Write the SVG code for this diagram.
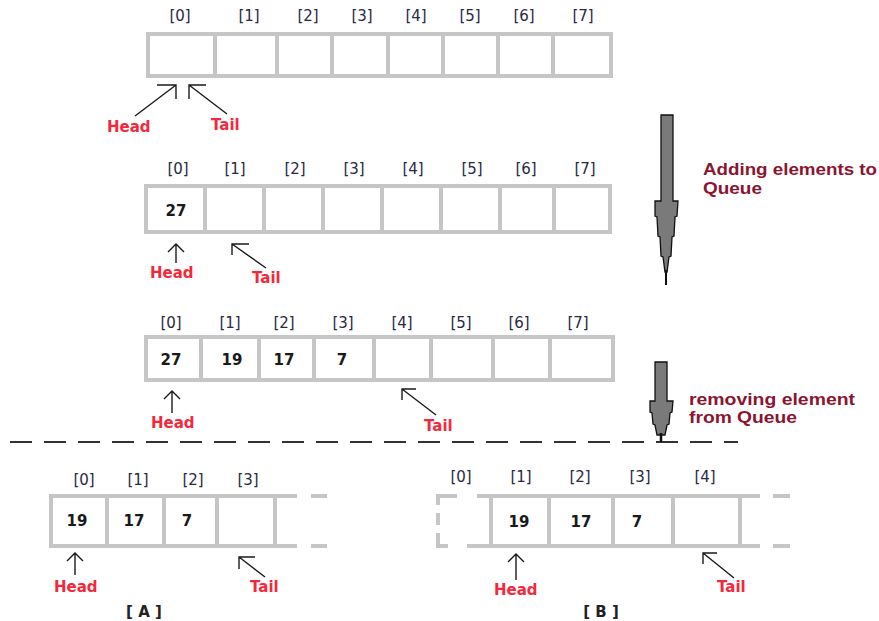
<svg xmlns="http://www.w3.org/2000/svg" width="879" height="621" viewBox="0 0 879 621">
<style>
.box{fill:#fff;stroke:#c6c6c6;stroke-width:4}
.ln{stroke:#c6c6c6;stroke-width:4;fill:none}
.idx{font-family:"DejaVu Sans",Verdana,sans-serif;font-size:15px;fill:#2a2a42;text-anchor:middle}
.num{font-family:"DejaVu Sans",Verdana,sans-serif;font-size:15px;font-weight:bold;fill:#1a1a1a;text-anchor:middle}
.ptr{font-family:"DejaVu Sans",Verdana,sans-serif;font-size:15px;font-weight:bold;fill:#f4283c}
.cap{font-family:"DejaVu Sans",Verdana,sans-serif;font-size:15px;font-weight:bold;fill:#222;text-anchor:middle}
.note{font-family:"Liberation Sans",Arial,sans-serif;font-size:16px;font-weight:bold;fill:#8b1530}
.arr{stroke:#1a1a1a;stroke-width:1.4;fill:none}
.big{fill:#7a7a7a;stroke:#111;stroke-width:1.3}
</style>

<g id="array1">
<rect class="box" x="148" y="34" width="463" height="42"/>
<path class="ln" d="M215 32V78M277 32V78M332 32V78M388 32V78M443 32V78M498 32V78M553 32V78"/>
<text class="idx" x="180" y="21">[0]</text><text class="idx" x="249" y="21">[1]</text><text class="idx" x="308" y="21">[2]</text><text class="idx" x="362" y="21">[3]</text><text class="idx" x="416" y="21">[4]</text><text class="idx" x="470" y="21">[5]</text><text class="idx" x="524" y="21">[6]</text><text class="idx" x="583" y="21">[7]</text>
<text class="ptr" x="107" y="132">Head</text>
<text class="ptr" x="211" y="130">Tail</text>
</g>

<g id="array2">
<rect class="box" x="146" y="186" width="464" height="46"/>
<path class="ln" d="M205 184V234M264 184V234M323 184V234M382 184V234M441 184V234M500 184V234M554 184V234"/>
<text class="idx" x="178" y="174">[0]</text><text class="idx" x="235" y="174">[1]</text><text class="idx" x="295" y="174">[2]</text><text class="idx" x="354" y="174">[3]</text><text class="idx" x="413" y="174">[4]</text><text class="idx" x="472" y="174">[5]</text><text class="idx" x="526" y="174">[6]</text><text class="idx" x="585" y="174">[7]</text>
<text class="num" x="176" y="216">27</text>
<text class="ptr" x="150" y="278">Head</text>
<text class="ptr" x="252" y="283">Tail</text>
</g>

<g id="array3">
<rect class="box" x="146" y="337" width="467" height="43"/>
<path class="ln" d="M201 335V382M259 335V382M314 335V382M374 335V382M431 335V382M493 335V382M550 335V382"/>
<text class="idx" x="171" y="328">[0]</text><text class="idx" x="230" y="328">[1]</text><text class="idx" x="284" y="328">[2]</text><text class="idx" x="343" y="328">[3]</text><text class="idx" x="402" y="328">[4]</text><text class="idx" x="461" y="328">[5]</text><text class="idx" x="519" y="328">[6]</text><text class="idx" x="578" y="328">[7]</text>
<text class="num" x="171" y="365">27</text><text class="num" x="232" y="365">19</text><text class="num" x="284" y="365">17</text><text class="num" x="342" y="365">7</text>
<text class="ptr" x="151" y="428">Head</text>
<text class="ptr" x="424" y="431">Tail</text>
</g>

<g id="arrayA">
<path class="ln" d="M49 496H297M49 546H297M51 494V548M107 494V548M164 494V548M217 494V548M275 494V548M311 496H327M311 546H327"/>
<text class="idx" x="84" y="485">[0]</text><text class="idx" x="138" y="485">[1]</text><text class="idx" x="193" y="485">[2]</text><text class="idx" x="248" y="485">[3]</text>
<text class="num" x="77" y="526">19</text><text class="num" x="134" y="526">17</text><text class="num" x="187" y="526">7</text>
<text class="ptr" x="54" y="592">Head</text>
<text class="ptr" x="250" y="592">Tail</text>
<text class="cap" x="144" y="617">[ A ]</text>
</g>

<g id="arrayB">
<path class="ln" d="M477 496H760M467 546H760M491 494V548M549 494V548M613 494V548M673 494V548M740 494V548M436 496H457M436 546H448M438 494V505M438 513V525M438 533V548M773 496H790M773 546H790"/>
<text class="idx" x="461" y="482">[0]</text><text class="idx" x="521" y="482">[1]</text><text class="idx" x="580" y="482">[2]</text><text class="idx" x="640" y="482">[3]</text><text class="idx" x="705" y="482">[4]</text>
<text class="num" x="519" y="527">19</text><text class="num" x="581" y="527">17</text><text class="num" x="637" y="527">7</text>
<text class="ptr" x="494" y="595">Head</text>
<text class="ptr" x="717" y="592">Tail</text>
<text class="cap" x="601" y="617">[ B ]</text>
</g>

<g id="notes">
<text class="note" x="703" y="175" textLength="174" lengthAdjust="spacingAndGlyphs">Adding elements to</text>
<text class="note" x="703" y="194" textLength="59" lengthAdjust="spacingAndGlyphs">Queue</text>
<text class="note" x="689" y="405" textLength="166" lengthAdjust="spacingAndGlyphs">removing element</text>
<text class="note" x="689" y="423" textLength="108" lengthAdjust="spacingAndGlyphs">from Queue</text>
</g>

<g id="connectors">
<path class="arr" d="M135 116L176 85M157 85H176V99"/>
<path class="arr" d="M227 114L189 85M206 85H189V99"/>
<path class="arr" d="M176 263V244M168 252L176 244L184 252"/>
<path class="arr" d="M266 268L232 244M249 244H232V255"/>
<path class="arr" d="M172 413V391M164 399L172 391L180 399"/>
<path class="arr" d="M436 415L402 389M416 389H402V400"/>
<path class="arr" d="M75 575V553M67 561L75 553L83 561"/>
<path class="arr" d="M265 577L239 557M255 557H239V569"/>
<path class="arr" d="M516 580V554M508 562L516 554L524 562"/>
<path class="arr" d="M734 578L703 553M717 553H703V564"/>
<path d="M10 442H738" stroke="#333" stroke-width="2" stroke-dasharray="22 12" fill="none"/>
<polygon class="big" points="661,115 673,115 673,201 678,201 677,216 675,217 674,236 672,237 671,256 669,257 667,272 665,272 663,257 661,256 660,237 658,236 657,217 655,216 655,201 661,201"/>
<path d="M666 270V285" stroke="#111" stroke-width="2"/>
<polygon class="big" points="655,362 667,362 667,401 673,401 672,412 670,413 669,424 667,425 665,435 657,435 655,425 653,424 652,413 650,412 650,401 655,401"/>
<path d="M661 433V442" stroke="#111" stroke-width="2.5"/>
</g>
</svg>
